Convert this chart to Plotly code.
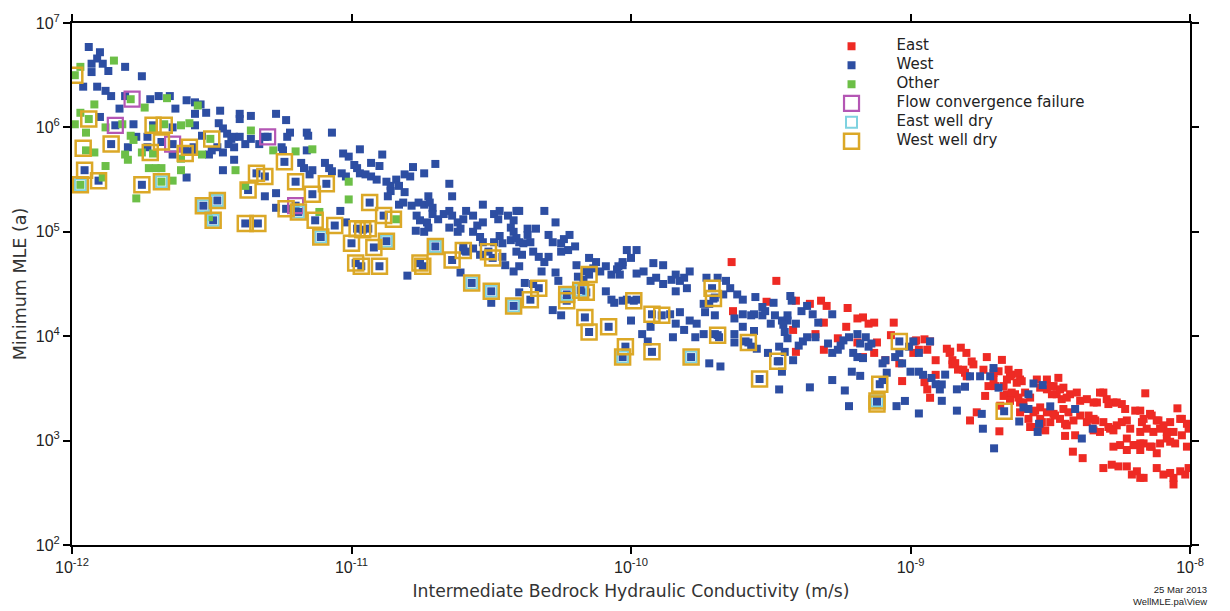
import plotly.graph_objects as go

# Values are (log10 K [m/s], log10 Minimum MLE [a])
EAST = [
    (-9.64,4.71),(-9.48,4.53),(-9.515,4.33),(-9.635,4.24),(-9.41,4.34),(-9.36,4.31),(-9.32,4.34),(-9.30,4.29),
    (-9.225,4.27),(-9.19,4.17),(-9.17,4.18),(-9.15,4.12),(-9.13,4.13),(-9.06,4.13),(-9.23,4.09),(-9.31,4.13),
    (-9.42,4.06),(-9.34,4.02),(-9.41,3.85),(-9.31,3.87),(-9.26,3.98),(-9.19,3.94),(-9.17,3.80),(-9.12,3.94),
    (-9.13,3.84),(-9.07,4.01),(-8.985,3.95),(-8.95,3.97),(-8.93,3.95),(-8.94,3.87),(-8.91,3.77),(-9.03,3.57),
    (-8.95,3.56),(-8.91,3.63),(-8.93,3.41),(-9.09,3.77),(-9.04,3.74),(-8.98,3.96),(-8.97,3.87),(-8.99,3.84),
    (-8.94,3.49),
    (-8.87,3.88),(-8.86,3.84),(-8.85,3.77),(-8.85,3.73),(-8.82,3.89),(-8.80,3.84),(-8.775,3.73),(-8.83,3.68),
    (-8.805,3.65),(-8.727,3.80),(-8.673,3.773),(-8.739,3.679),(-8.685,3.664),(-8.649,3.679),(-8.638,3.632),
    (-8.655,3.585),(-8.608,3.585),(-8.703,3.585),(-8.721,3.522),(-8.733,3.428),(-8.667,3.522),(-8.655,3.444),
    (-8.644,3.397),(-8.679,3.334),(-8.626,3.444),(-8.608,3.365),(-8.59,3.46),(-8.572,3.412),(-8.548,3.585),
    (-8.512,3.585),(-8.536,3.507),(-8.512,3.491),(-8.471,3.601),(-8.488,3.522),(-8.477,3.444),(-8.453,3.507),
    (-8.429,3.444),(-8.405,3.46),(-8.459,3.397),(-8.393,3.381),(-8.369,3.397),(-8.333,3.365),(-8.31,3.46),
    (-8.298,3.397),(-8.274,3.365),(-8.244,3.35),(-8.232,3.303),(-8.178,3.287),(-8.16,3.453),(-8.143,3.256),
    (-8.166,3.208),(-8.113,3.193),(-8.071,3.177),(-8.045,3.309),(-8.029,3.208),(-8.059,3.083),(-8.005,3.114),
    (-8.584,3.303),(-8.56,3.271),(-8.536,3.318),(-8.512,3.271),(-8.488,3.256),(-8.536,3.208),(-8.5,3.177),
    (-8.465,3.208),(-8.441,3.146),(-8.417,3.193),(-8.393,3.24),(-8.369,3.177),(-8.345,3.208),(-8.31,3.177),
    (-8.286,3.114),(-8.262,3.146),(-8.226,3.193),(-8.214,3.114),(-8.178,3.083),(-8.155,3.114),(-8.131,3.083),
    (-8.572,3.13),(-8.518,3.098),(-8.447,3.045),(-8.411,3.051),(-8.345,3.098),(-8.322,3.083),(-8.25,2.957),
    (-8.226,3.02),(-8.196,2.957),(-8.166,2.973),(-8.137,2.942),(-8.107,2.973),(-8.083,3.02),(-8.053,2.973),
    (-8.029,3.051),(-8.011,2.942),(-8.787,3.193),(-8.763,3.271),(-8.682,3.089),(-8.419,2.894),(-8.384,2.832),
    (-8.31,2.737),(-8.28,2.769),(-8.256,2.753),(-8.226,2.753),(-8.208,2.675),(-8.19,2.706),(-8.166,2.643),
    (-8.119,2.737),(-8.095,2.675),(-8.059,2.643),(-8.035,2.706),(-8.017,2.675),(-8.059,2.58),
    (-8.858,3.852),(-8.84,3.742),(-8.781,3.758),(-8.811,3.679),(-8.799,3.616),(-8.703,3.648),(-8.614,3.648),
    (-8.644,3.616),(-8.697,3.522),(-8.62,3.554),(-8.602,3.569),(-8.667,3.428),(-8.638,3.46),(-8.614,3.412),
    (-8.644,3.381),(-8.596,3.365),(-8.5,3.522),(-8.465,3.491),(-8.494,3.444),(-8.441,3.412),(-8.453,3.303),
    (-8.435,3.271),(-8.608,3.271),(-8.554,3.287),(-8.483,3.24),(-8.578,3.208),(-8.554,3.13),(-8.53,3.177),
    (-8.447,3.161),(-8.536,3.114),(-8.345,3.365),(-8.322,3.46),(-8.292,3.35),(-8.262,3.365),(-8.363,3.24),
    (-8.339,3.193),(-8.292,3.13),(-8.274,3.098),(-8.244,3.177),(-8.196,3.287),(-8.172,3.177),(-8.137,3.24),
    (-8.119,3.193),(-8.095,3.146),(-8.035,3.208),(-8.011,3.161),(-8.083,3.083),(-8.107,3.114),(-8.202,2.957),
    (-8.178,2.973),(-8.143,2.942),(-8.071,2.989),(-8.119,2.879),(-8.178,2.91),(-8.226,2.91),(-8.274,2.942),
    (-8.178,2.643),(-8.071,2.69),(-8.005,2.737),
]

WEST = [
    (-11.94,6.77),(-11.90,6.72),(-11.93,6.61),(-11.91,6.66),(-11.89,6.61),(-11.93,6.53),(-11.87,6.54),(-11.81,6.58),
    (-11.75,6.49),(-11.96,6.39),(-11.91,6.39),(-11.88,6.35),(-11.86,6.30),(-11.81,6.30),(-11.83,6.18),(-11.72,6.27),
    (-11.69,6.30),(-11.65,6.30),(-11.63,6.18),(-11.59,6.26),(-11.56,6.24),(-11.54,6.22),(-11.56,6.13),(-11.52,6.14),
    (-11.47,6.16),(-11.40,6.13),(-11.40,6.08),(-11.36,6.11),(-11.27,6.13),(-11.90,6.10),(-11.78,6.03),(-11.71,6.02),
    (-11.64,6.00),(-11.56,6.02),(-11.475,6.04),(-11.46,5.99),(-11.445,5.94),(-11.43,5.89),(-11.42,5.91),(-11.40,5.91),
    (-11.38,5.84),(-11.36,5.89),(-11.33,5.84),(-11.31,5.91),(-11.42,5.81),(-11.44,5.84),(-11.46,5.76),(-11.48,5.81),
    (-11.535,5.92),(-11.73,5.91),(-11.77,5.91),(-11.80,5.81),(-11.86,5.84),(-11.50,5.78),(-11.51,5.74),(-11.57,5.77),
    (-11.73,5.81),(-11.64,5.74),(-11.845,6.02),(-11.64,5.84),(-11.30,5.91),(-11.955,5.59),(-11.905,5.49),(-11.75,5.45),
    (-11.59,5.52),(-11.565,5.81),(-11.595,5.78),(-11.46,5.59),(-11.42,5.69),(-11.37,5.40),(-11.34,5.56),(-11.31,5.53),
    (-11.31,5.34),(-11.27,5.37),(-11.24,5.67),(-11.53,5.25),(-11.48,5.30),(-11.495,5.11),(-11.38,5.08),(-11.335,5.08),
    (-11.19,5.19),(-11.27,5.23),(-11.68,5.86),(-11.20,5.25),
    (-11.234,6.07),(-11.22,5.95),(-11.23,5.91),(-11.16,5.95),(-11.155,5.92),(-11.07,5.95),(-11.25,5.81),(-11.245,5.78),
    (-11.16,5.78),(-10.97,5.79),(-11.03,5.75),(-11.01,5.72),(-10.89,5.74),(-11.18,5.66),(-11.17,5.61),(-11.14,5.59),
    (-11.15,5.55),(-11.095,5.66),(-11.08,5.61),(-11.07,5.58),(-11.035,5.56),(-11.02,5.53),(-10.99,5.64),(-10.98,5.61),
    (-10.97,5.56),(-10.95,5.55),(-10.93,5.53),(-10.91,5.50),(-10.93,5.66),(-10.90,5.63),(-10.875,5.48),(-10.86,5.44),
    (-10.86,5.39),(-10.87,5.34),(-10.84,5.50),(-10.83,5.44),(-10.81,5.55),(-10.79,5.53),(-10.78,5.62),(-10.74,5.56),
    (-10.70,5.65),(-10.81,5.38),(-10.83,5.26),(-10.815,5.28),(-10.785,5.25),(-10.76,5.28),(-10.74,5.26),(-10.725,5.34),
    (-10.72,5.28),(-10.71,5.23),(-10.65,5.46),(-10.64,5.34),(-10.53,5.26),(-10.767,5.155),(-10.755,5.11),(-10.73,5.09),
    (-10.71,5.17),(-10.69,5.12),(-10.67,5.17),(-10.65,5.20),(-10.64,5.155),(-10.62,5.09),(-10.60,5.12),(-10.59,5.20),
    (-10.565,5.155),(-10.55,5.06),(-10.53,5.09),(-10.49,5.17),(-10.475,5.12),(-10.47,5.20),(-10.44,5.155),(-10.42,5.11),
    (-10.41,5.20),(-10.43,5.04),(-10.77,5.01),(-10.74,5.00),(-10.725,5.04),(-10.65,5.04),(-10.62,5.00),(-10.61,5.03),
    (-10.565,5.00),(-10.54,4.95),(-10.53,4.90),(-10.49,4.90),(-10.47,4.96),(-10.46,4.89),(-10.43,4.92),(-10.42,5.00),
    (-10.41,4.94),(-10.60,4.86),(-10.59,4.81),(-10.565,4.84),(-10.54,4.78),(-10.46,4.76),(-10.45,4.68),(-10.42,4.62),
    (-10.41,4.81),(-10.61,4.61),(-10.50,4.32),(-10.80,4.58),(-11.04,5.20),(-11.02,5.09),
    (-10.935,5.28),(-10.98,5.03),(-10.96,5.02),(-10.94,5.03),(-11.00,4.89),(-10.92,4.85),(-10.875,4.91),(-10.985,4.70),
    (-10.965,4.67),(-10.90,4.67),(-10.755,4.70),(-10.745,4.67),(-10.70,4.86),(-10.64,4.73),(-10.60,4.82),(-10.51,4.81),
    (-10.495,4.75),(-10.57,4.51),(-10.50,4.43),(-10.42,4.29),(-11.11,4.95),(-11.13,5.11),(-11.06,5.06),(-11.09,5.46),
    (-11.14,5.36),(-11.20,5.48),(-10.885,5.155),(-11.234,5.22),
    (-10.31,5.20),(-10.40,5.20),(-10.27,5.09),(-10.37,5.03),(-10.34,5.03),(-10.37,4.97),(-10.295,4.97),(-10.28,4.90),
    (-10.25,4.89),(-10.24,4.93),(-10.22,4.97),(-10.20,4.86),(-10.225,4.825),(-10.25,4.81),(-10.40,4.90),(-10.385,4.89),
    (-10.36,4.90),(-10.35,4.81),(-10.39,4.78),(-10.40,4.67),(-10.33,4.76),(-10.31,4.71),(-10.32,4.62),(-10.295,4.76),
    (-10.38,4.51),(-10.35,4.50),(-10.40,4.42),(-10.27,4.61),(-10.26,4.53),(-10.28,4.25),(-10.25,4.20),(-10.195,4.68),
    (-10.19,4.57),(-10.16,4.62),(-10.17,4.54),(-10.15,4.75),(-10.125,4.71),(-10.135,4.65),(-10.11,4.62),(-10.09,4.67),
    (-10.07,4.59),(-10.05,4.64),(-10.03,4.68),(-10.04,4.59),(-10.015,4.825),(-9.98,4.825),(-10.00,4.75),(-10.03,4.71),
    (-10.045,4.67),(-9.92,4.70),(-9.885,4.68),(-9.955,4.62),(-9.98,4.60),(-9.93,4.53),(-9.91,4.56),(-9.885,4.50),
    (-9.855,4.54),(-9.84,4.59),(-9.825,4.53),(-9.81,4.56),(-9.79,4.62),(-9.80,4.46),(-9.84,4.43),(-10.09,4.43),
    (-10.07,4.35),(-10.06,4.32),(-10.03,4.34),(-10.015,4.35),(-9.98,4.35),(-10.00,4.15),(-9.96,4.02),(-9.93,4.09),
    (-9.94,3.95),(-9.86,4.21),(-9.84,4.12),(-9.85,3.99),(-9.825,4.23),(-9.81,4.06),(-9.79,4.15),(-9.765,4.12),
    (-9.77,3.99),
    (-10.33,4.46),(-10.36,4.35),(-10.23,4.40),(-10.23,4.34),(-10.15,4.59),(-10.18,4.44),(-10.16,4.42),(-10.165,4.18),
    (-10.15,4.04),(-10.08,4.09),(-10.02,3.90),(-10.03,3.80),(-9.99,4.34),(-9.925,4.21),(-9.89,4.20),(-9.925,3.85),
    (-9.785,3.80),(-9.71,4.46),(-9.705,4.36),(-9.69,4.01),
    (-9.73,4.56),(-9.69,4.56),(-9.66,4.53),(-9.645,4.46),(-9.62,4.40),(-9.67,4.40),(-9.70,4.37),(-9.72,4.31),
    (-9.74,4.31),(-9.735,4.23),(-9.70,4.20),(-9.60,4.35),(-9.555,4.375),(-9.63,4.17),(-9.60,4.21),(-9.57,4.20),
    (-9.56,4.21),(-9.53,4.20),(-9.52,4.24),(-9.53,4.28),(-9.485,4.20),(-9.49,4.32),(-9.44,4.20),(-9.43,4.385),
    (-9.425,4.34),(-9.44,4.15),(-9.46,4.15),(-9.41,4.12),(-9.39,4.24),(-9.37,4.29),(-9.35,4.21),(-9.33,4.13),
    (-9.28,4.21),(-9.60,4.09),(-9.56,4.05),(-9.50,4.12),(-9.455,4.11),(-9.45,4.04),(-9.44,3.98),(-9.74,4.02),
    (-9.70,4.02),(-9.685,3.99),(-9.63,4.02),(-9.63,3.94),(-9.59,3.95),(-9.57,3.90),(-9.55,3.88),(-9.51,3.84),
    (-9.47,3.90),(-9.45,3.85),(-9.47,3.76),(-9.46,3.66),(-9.42,3.77),(-9.40,3.91),(-9.385,3.95),(-9.37,3.99),
    (-9.34,3.99),(-9.295,3.93),(-9.28,3.84),(-9.26,3.87),(-9.25,3.91),(-9.24,3.96),(-9.22,3.99),(-9.19,4.02),
    (-9.16,3.99),(-9.18,3.93),(-9.15,3.90),(-9.14,3.93),(-9.205,3.84),(-9.19,3.80),(-9.17,3.79),(-9.21,3.66),
    (-9.18,3.62),(-9.10,3.74),(-9.09,3.77),(-9.085,3.65),(-9.10,3.58),(-9.055,3.80),(-9.04,3.84),(-9.03,3.74),
    (-9.005,3.90),(-8.99,3.95),(-8.97,3.84),(-8.93,3.95),(-9.00,3.66),(-8.97,3.66),(-8.955,3.63),(-8.925,3.60),
    (-8.91,3.54),(-8.895,3.49),(-9.72,3.74),(-9.68,3.71),(-9.47,3.49),(-9.36,3.51),(-9.28,3.58),(-9.235,3.48),
    (-9.22,3.33),(-9.05,3.33),(-9.02,3.38),(-8.97,3.26),
    (-9.58,3.94),(-9.475,3.76),(-9.54,3.59),(-9.11,3.54),(-9.12,3.38),(-9.12,3.35),(-9.04,3.95),
    (-8.876,3.632),(-8.888,3.538),(-8.888,3.381),(-8.834,3.491),(-8.805,3.516),(-8.787,3.616),(-8.751,3.616),
    (-8.715,3.616),(-8.703,3.695),(-8.685,3.507),(-8.834,3.287),(-8.745,3.256),(-8.741,3.114),(-8.701,2.926),
    (-8.665,3.281),(-8.611,3.183),(-8.596,3.318),(-8.578,3.303),(-8.578,3.444),(-8.56,3.547),(-8.527,3.532),
    (-8.54,3.161),(-8.545,3.083),(-8.5,3.328),(-8.411,3.303),(-8.348,3.114),(-8.387,3.02),
]

OTHER = [
    (-11.97,6.58),(-11.85,6.64),(-11.79,6.27),(-11.74,6.19),(-11.66,6.28),(-11.55,6.21),(-11.92,6.22),(-11.97,6.14),
    (-11.94,6.08),(-11.99,6.03),(-11.95,5.95),(-11.88,6.00),(-11.82,6.03),(-11.79,5.92),(-11.78,5.88),(-11.71,5.99),
    (-11.67,6.03),(-11.61,6.02),(-11.58,6.04),(-11.505,5.89),(-11.36,5.97),(-11.28,5.78),(-11.95,5.78),(-11.92,5.76),
    (-11.81,5.74),(-11.80,5.69),(-11.75,5.76),(-11.71,5.75),(-11.61,5.70),(-11.535,5.74),(-11.88,5.63),(-11.725,5.61),
    (-11.70,5.61),(-11.68,5.61),(-11.61,5.59),(-11.64,5.49),(-11.89,5.52),(-11.97,5.45),(-11.68,5.48),(-11.77,5.32),
    (-11.415,5.59),(-11.38,5.44),(-11.51,5.14),(-11.99,6.50),(-11.20,5.77),(-11.14,5.79),(-11.01,5.48),(-11.01,5.31),
    (-11.115,5.19),(-10.84,5.12),
]

FLOW_FAILURE = [(-11.785,6.27),(-11.845,6.02),(-11.64,5.84),(-11.30,5.91),(-11.20,5.25)]

EAST_WELL_DRY = [
    (-11.97,5.45),(-11.68,5.48),(-11.53,5.25),(-11.48,5.30),(-11.495,5.11),(-11.19,5.19),(-11.11,4.95),(-10.875,4.91),
    (-10.70,4.86),(-10.57,4.51),(-10.50,4.43),(-10.42,4.29),(-10.23,4.40),(-10.18,4.44),(-10.03,3.80),(-9.785,3.80),
    (-9.12,3.38),
]

WEST_WELL_DRY = [
    (-11.99,6.50),(-11.94,6.08),(-11.71,6.02),(-11.67,6.02),(-11.96,5.80),(-11.86,5.84),(-11.72,5.76),(-11.68,5.86),
    (-11.595,5.75),(-11.58,5.81),(-11.50,5.89),(-11.955,5.59),(-11.905,5.49),(-11.97,5.45),(-11.75,5.45),(-11.68,5.48),
    (-11.53,5.25),(-11.48,5.30),(-11.495,5.11),(-11.38,5.08),(-11.335,5.08),(-11.37,5.40),(-11.34,5.56),(-11.31,5.53),
    (-11.24,5.67),(-11.20,5.48),(-11.234,5.22),(-11.19,5.19),(-11.14,5.36),(-11.09,5.46),(-11.13,5.11),(-11.06,5.06),
    (-11.11,4.95),(-10.935,5.28),(-10.885,5.155),(-10.85,5.12),(-10.98,5.03),(-10.96,5.02),(-10.94,5.03),(-11.00,4.89),
    (-10.92,4.85),(-10.875,4.91),(-10.985,4.70),(-10.965,4.67),(-10.90,4.67),(-10.755,4.70),(-10.745,4.67),(-10.70,4.86),
    (-10.64,4.73),(-10.60,4.82),(-10.51,4.81),(-10.495,4.75),(-10.57,4.51),(-10.50,4.43),(-10.42,4.29),(-10.33,4.46),
    (-10.36,4.35),(-10.23,4.40),(-10.23,4.34),(-10.15,4.59),(-10.18,4.44),(-10.16,4.42),(-10.165,4.18),(-10.15,4.04),
    (-10.08,4.09),(-10.02,3.90),(-10.03,3.80),(-9.99,4.34),(-9.925,4.21),(-9.89,4.20),(-9.925,3.85),(-9.785,3.80),
    (-9.71,4.46),(-9.705,4.36),(-9.69,4.01),(-9.58,3.94),(-9.475,3.76),(-9.54,3.59),(-9.11,3.54),(-9.12,3.38),
    (-9.12,3.35),(-9.04,3.95),(-8.665,3.28),
]

X_TICK_EXPONENTS = [-12, -11, -10, -9, -8]
Y_TICK_EXPONENTS = [2, 3, 4, 5, 6, 7]

FONT = "Liberation Sans"
WIDE_FONT = "DejaVu Sans"


def unpack(points):
    return [10 ** p[0] for p in points], [10 ** p[1] for p in points]


def legend_label(text):
    return f'<span style="font-size:15px">{text}</span>'


fig = go.Figure()

series = [
    ("East", EAST, dict(symbol="square", size=8, color="#EE2A24")),
    ("West", WEST, dict(symbol="square", size=8, color="#2D4EA2")),
    ("Other", OTHER, dict(symbol="square", size=8, color="#6CBF47")),
    ("Flow convergence failure", FLOW_FAILURE,
     dict(symbol="square-open", size=15, color="#B456B4", line=dict(width=2.2, color="#B456B4"))),
    ("East well dry", EAST_WELL_DRY,
     dict(symbol="square-open", size=11, color="#7FD2E0", line=dict(width=2, color="#7FD2E0"))),
    ("West well dry", WEST_WELL_DRY,
     dict(symbol="square-open", size=15, color="#DBA827", line=dict(width=2.5, color="#DBA827"))),
]
for name, pts, marker in series:
    xs, ys = unpack(pts)
    fig.add_trace(go.Scatter(x=xs, y=ys, mode="markers", name=legend_label(name), marker=marker,
                             hovertemplate=name + "<br>K=%{x:.2e} m/s<br>MLE=%{y:.3g} a<extra></extra>"))

axis_common = dict(
    type="log", showgrid=False, zeroline=False, showline=True, linecolor="black", linewidth=2,
    mirror="ticks", ticks="outside", ticklen=7, tickwidth=2, tickcolor="black",
    tickfont=dict(family=FONT, size=16, color="#222222"),
)

fig.update_layout(
    width=1230, height=611,
    margin=dict(l=72, r=40, t=14, b=66),
    paper_bgcolor="white", plot_bgcolor="white",
    font=dict(family=FONT, color="#222222"),
    xaxis=dict(
        axis_common,
        range=[-12, -8],
        tickvals=[10 ** e for e in X_TICK_EXPONENTS],
        ticktext=[f"10<sup>{e}</sup>" for e in X_TICK_EXPONENTS],
        title=dict(text="Intermediate Bedrock Hydraulic Conductivity (m/s)",
                   font=dict(family=WIDE_FONT, size=17.2, color="#333333"), standoff=10),
    ),
    yaxis=dict(
        axis_common,
        range=[2, 7],
        tickvals=[10 ** e for e in Y_TICK_EXPONENTS],
        ticktext=[f"10<sup>{e}</sup>" for e in Y_TICK_EXPONENTS],
        title=dict(text="Minimum MLE (a)", font=dict(family=WIDE_FONT, size=17.5, color="#333333"),
                   standoff=5),
    ),
    legend=dict(
        x=0.657, y=0.983, xanchor="left", yanchor="top",
        bgcolor="rgba(0,0,0,0)", borderwidth=0,
        font=dict(family=WIDE_FONT, size=10, color="#222222"),
        itemsizing="trace", itemwidth=80,
    ),
    annotations=[
        dict(text="25 Mar 2013<br>WellMLE.pa\\View", xref="paper", yref="paper",
             x=1.017, y=-0.07, xanchor="right", yanchor="top", align="right",
             showarrow=False, font=dict(family=FONT, size=9.5, color="#222222")),
    ],
)

fig.write_html("out.html")
